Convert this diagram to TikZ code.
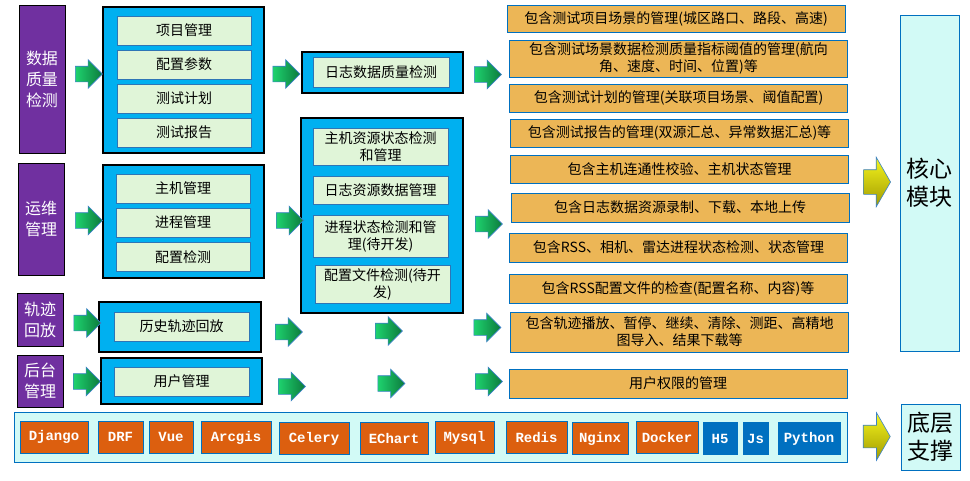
\documentclass[tikz,border=0pt]{standalone}
\usepackage{fontspec}
\setmainfont{Noto Sans CJK SC}
\newfontfamily\techfont{Liberation Mono}
\usetikzlibrary{shapes.arrows}
\definecolor{sidepurple}{RGB}{112,48,160}
\definecolor{framecyan}{RGB}{0,176,240}
\definecolor{itemgreen}{RGB}{224,245,216}
\definecolor{itemedge}{RGB}{46,117,182}
\definecolor{noteorange}{RGB}{236,182,86}
\definecolor{edgeblue}{RGB}{0,112,192}
\definecolor{palecyan}{RGB}{210,250,246}
\definecolor{techorange}{RGB}{220,95,15}
\definecolor{techblue}{RGB}{0,112,192}
\definecolor{greenlight}{RGB}{30,210,110}
\definecolor{greendark}{RGB}{12,122,60}
\definecolor{arrowedge}{RGB}{60,130,200}
\definecolor{yellowtop}{RGB}{245,245,30}
\definecolor{yellowbot}{RGB}{160,154,0}
\begin{document}
\begin{tikzpicture}[x=1pt,y=-1pt,
  sidebox/.style={draw=black,line width=0.8pt,fill=sidepurple,text=white,align=center,
    font=\fontsize{16}{21}\selectfont,inner sep=0pt,minimum width=46pt},
  framebox/.style={draw=black,line width=1.2pt,fill=framecyan,inner sep=0pt},
  itembox/.style={draw=itemedge,line width=0.8pt,fill=itemgreen,align=center,
    font=\fontsize{14}{17}\selectfont,inner sep=0pt},
  notebox/.style={draw=edgeblue,line width=1pt,fill=noteorange,align=center,
    font=\fontsize{14}{17}\selectfont,inner sep=0pt,minimum width=338pt},
  techbox/.style={draw=edgeblue,line width=0.8pt,fill=techorange,text=white,
    font=\techfont\bfseries\fontsize{14}{16}\selectfont,inner sep=0pt,minimum height=32pt},
  layerbox/.style={draw=edgeblue,line width=0.8pt,fill=palecyan,align=center,
    font=\fontsize{23}{28}\selectfont,inner sep=0pt,minimum width=59pt},
  garrow/.style={single arrow,draw=arrowedge,line width=0.6pt,left color=greenlight,
    right color=greendark,minimum height=27pt,inner xsep=0pt,inner ysep=7.5pt,
    single arrow head extend=6.5pt},
  yarrow/.style={single arrow,draw=arrowedge,line width=0.6pt,top color=yellowtop,
    bottom color=yellowbot,minimum height=27pt,inner xsep=0pt,inner ysep=12pt,
    single arrow head extend=12.5pt,single arrow tip angle=120}]
  \useasboundingbox[fill=white] (0,0) rectangle (970,480);
  \node[sidebox,minimum height=148pt] (sdata) at (42,79) {数据\\质量\\检测};
  \node[sidebox,minimum height=112pt] (sops) at (41,219) {运维\\管理};
  \node[sidebox,minimum height=53pt] (strack) at (40,319.5) {轨迹\\回放};
  \node[sidebox,minimum height=52pt] (sadmin) at (40,381) {后台\\管理};
  \node[framebox,minimum width=161pt,minimum height=146pt] (fdata) at (183.5,80) {};
  \node[framebox,minimum width=161pt,minimum height=113pt] (fops) at (183.5,221.5) {};
  \node[framebox,minimum width=162pt,minimum height=50pt] (ftrack) at (180,327) {};
  \node[framebox,minimum width=161pt,minimum height=46pt] (fadmin) at (181.5,381) {};
  \node[framebox,minimum width=161pt,minimum height=41pt] (flog) at (382.5,72.5) {};
  \node[framebox,minimum width=162pt,minimum height=195pt] (fres) at (382,215.5) {};
  \foreach \n/\y/\t in {1/30.5/项目管理,2/64.5/配置参数,3/98.5/测试计划,4/132.5/测试报告} {
    \node[itembox,minimum width=134pt,minimum height=29pt] (idata\n) at (184,\y) {\t};
  }
  \foreach \n/\y/\t in {1/188.5/主机管理,2/222.5/进程管理,3/257/配置检测} {
    \node[itembox,minimum width=134pt,minimum height=29pt] (iops\n) at (183,\y) {\t};
  }
  \node[itembox,minimum width=135pt,minimum height=29pt] (itrack) at (181.5,326.5) {历史轨迹回放};
  \node[itembox,minimum width=135pt,minimum height=29pt] (iadmin) at (181.5,381.5) {用户管理};
  \node[itembox,minimum width=136pt,minimum height=30pt] (ilog) at (381,72) {日志数据质量检测};
  \foreach \n/\x/\y/\h/\t in {1/380.5/146.5/37/{主机资源状态检测\\和管理},2/380.5/190/28/{日志资源数据管理},
      3/380.5/236/42/{进程状态检测和管\\理(待开发)},4/382.5/284/38/{配置文件检测(待开\\发)}} {
    \node[itembox,minimum width=135pt,minimum height=\h pt] (ires\n) at (\x,\y) {\t};
  }
  \foreach \n/\x/\y/\h/\t in {1/676/18.5/27/{包含测试项目场景的管理(城区路口、路段、高速)},
      2/678.5/58.5/37/{包含测试场景数据检测质量指标阈值的管理(航向\\角、速度、时间、位置)等},
      3/678.5/98/28/{包含测试计划的管理(关联项目场景、阈值配置)},
      4/679.5/133/28/{包含测试报告的管理(双源汇总、异常数据汇总)等},
      5/679.5/169/28/{包含主机连通性校验、主机状态管理},
      6/680/207.5/29/{包含日志数据资源录制、下载、本地上传},
      7/678.5/247.5/29/{包含RSS、相机、雷达进程状态检测、状态管理},
      8/678/288.5/29/{包含RSS配置文件的检查(配置名称、内容)等},
      9/679.5/332/40/{包含轨迹播放、暂停、继续、清除、测距、高精地\\图导入、结果下载等},
      10/678/383.5/29/{用户权限的管理}} {
    \node[notebox,minimum height=\h pt] (note\n) at (\x,\y) {\t};
  }
  \node[layerbox,minimum height=336pt] (core) at (929.5,183) {核心\\模块};
  \node[layerbox,minimum height=66pt] (base) at (930.5,437) {底层\\支撑};
  \node[draw=edgeblue,line width=0.8pt,fill=palecyan,minimum width=833pt,minimum height=50pt,
    inner sep=0pt] (stack) at (430.5,437) {};
  \foreach \n/\x/\y/\w/\t in {dj/54/437/68/Django,drf/120.5/437/45/DRF,vue/171/437/44/Vue,
      arc/236/437.5/70/Arcgis,cel/314/438.5/70/Celery,ech/394/438.5/68/EChart,
      sql/464.5/437.5/59/Mysql,red/536.5/437.5/61/Redis,ngx/600/438.5/56/Nginx,
      dock/667/437/62/Docker} {
    \node[techbox,minimum width=\w pt] (tech\n) at (\x,\y) {\t};
  }
  \foreach \n/\x/\w/\t in {hf/720/34/H5,js/755.5/25/Js,py/809/62/Python} {
    \node[techbox,fill=techblue,minimum width=\w pt] (tech\n) at (\x,438.5) {\t};
  }
  \foreach \n/\x/\y in {1/85/74,2/282.5/74,3/484/74.5,4/85/220.5,5/286/220.5,6/485/224,
      7/83.5/323,8/285/332,9/385/331,10/483.5/327.5,11/83/381.5,12/288/386.5,
      13/387.5/383.5,14/485/381.5} {
    \node[garrow] (go\n) at (\x,\y) {};
  }
  \node[yarrow] (ycore) at (873.5,182) {};
  \node[yarrow,inner ysep=11pt] (ybase) at (873.5,436.5) {};
\end{tikzpicture}
\end{document}
